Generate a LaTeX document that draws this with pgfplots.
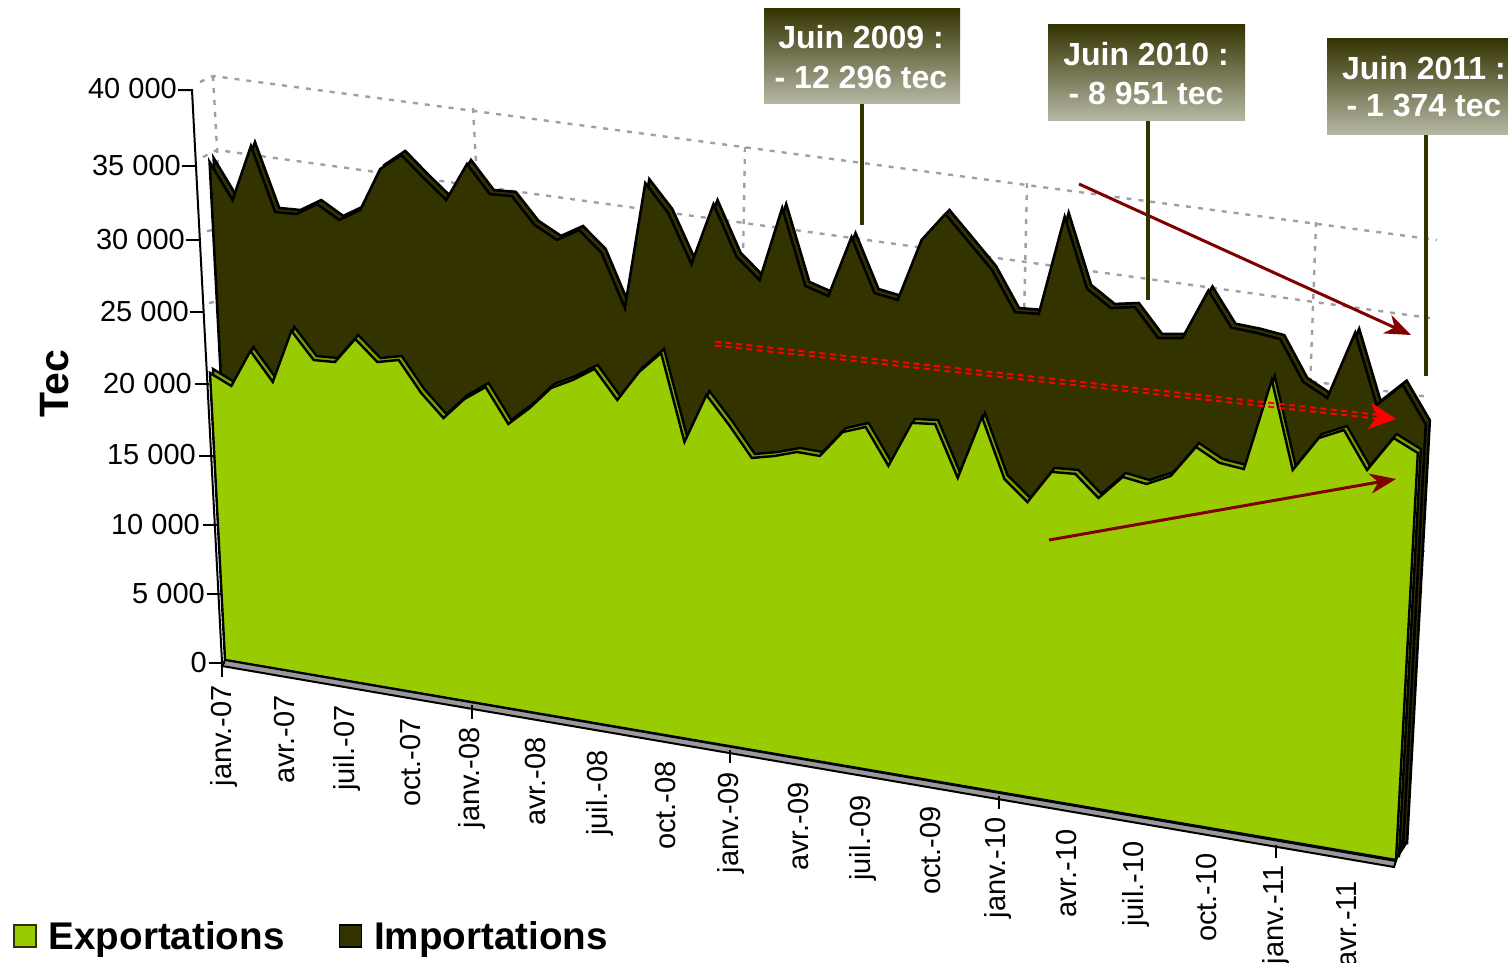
\documentclass[border=0pt]{standalone}
\usepackage{fontspec}
\setmainfont{Liberation Sans}
\usepackage{pgfplots}
\usepackage{pgfplotstable}
\pgfplotsset{compat=1.18}
\usetikzlibrary{arrows.meta}
\definecolor{vert}{HTML}{99CC00}
\definecolor{vertrim}{HTML}{7AA300}
\definecolor{olive}{HTML}{333300}
\definecolor{gridg}{HTML}{A0A0A0}
\definecolor{darkr}{HTML}{800000}
\definecolor{boxlow}{HTML}{B5B7A3}

% month index (0 = janv.-07), tonnes; first and last row close the area on the floor
\pgfplotstableread{
m v
0 0
0 20540
1 19850
2 22500
3 20570
4 24310
5 22520
6 22600
7 24400
8 23030
9 23390
10 21340
11 19840
12 21370
13 22410
14 20100
15 21420
16 23000
17 23770
18 24730
19 22850
20 24960
21 26450
22 20680
23 24070
24 22280
25 20280
26 20640
27 21140
28 21100
29 22930
30 23490
31 21120
32 24210
33 24360
34 21010
35 25270
36 21400
37 20100
38 22330
39 22430
40 21070
41 22690
42 22460
43 23220
44 25340
45 24530
46 24360
47 30330
48 24760
49 27050
50 27790
51 25450
52 27730
53 27000
53 0
}\exportT
\pgfplotstableread{
m v
0 0
0 34110
1 31740
2 35570
3 31330
4 31390
5 32260
6 31390
7 32260
8 35190
9 36320
10 34980
11 33720
12 36300
13 34510
14 34580
15 32860
16 32070
17 32930
18 31610
19 28160
20 36600
21 34850
22 31700
23 35830
24 32580
25 31270
26 36170
27 31300
28 30850
29 34890
30 31460
31 31220
32 35310
33 37180
34 35590
35 33990
36 31490
37 31580
38 38000
39 33610
40 32600
41 32870
42 31100
43 31310
44 34550
45 32400
46 32300
47 32100
48 29590
49 28790
50 33150
51 28780
52 30300
53 28000
53 0
}\importT

% perspective of the 3D chart: (month, tonnes) to picture position
\newcommand\PX[2]{((1060.1*(#1/53)-39.54*(#2/40000)+225)/(1-0.07945*(#1/53)-0.04893*(#2/40000)))}
\newcommand\PY[2]{((131.67*(#1/53)-577.26*(#2/40000)+660)/(1-0.07945*(#1/53)-0.04893*(#2/40000)))}

\begin{document}
\begin{tikzpicture}
\useasboundingbox (0,0) rectangle (1508pt,962pt);
\clip (0,0) rectangle (1508pt,962pt);
\begin{axis}[
  at={(0,0)}, anchor=south west,
  scale only axis, width=1508pt, height=962pt,
  xmin=0, xmax=1508, ymin=0, ymax=962, y dir=reverse,
  hide axis, clip=false,
  legend columns=2,
  legend cell align=left,
  legend style={at={(axis cs:10,955)}, anchor=south west, draw=none, fill=none,
    font=\fontsize{38.6}{40}\selectfont\bfseries,
    /tikz/every odd column/.style={column sep=10pt},
    /tikz/every even column/.style={column sep=52pt}},
  legend image code/.code={\draw[#1,line width=1.5pt] (0pt,-11pt) rectangle (22pt,11pt);},
  gridl/.style={forget plot, gridg, line width=2.4pt, dash pattern=on 5pt off 7pt},
  lead/.style={forget plot, olive, line width=4pt},
]
\addlegendimage{fill=vert,draw=olive}
\addlegendentry{Exportations}
\addlegendimage{fill=olive,draw=black}
\addlegendentry{Importations}

% wall grid
\addplot[gridl] coordinates {(200,82) (213,76) (1437,240)};
\addplot[gridl] coordinates {(203,157) (217,150) (1430,318)};
\addplot[gridl] coordinates {(1300,380) (1430,397)};
\addplot[gridl] coordinates {(213,76) (222,240)};
\addplot[gridl] coordinates {(473,108) (478,200)};
\addplot[gridl] coordinates {(745,147) (743,260)};
\addplot[gridl] coordinates {(1027,183) (1024,320)};
\addplot[gridl] coordinates {(1316,222) (1310,390)};
\addplot[gridl] coordinates {(207,231) (213,230)};
\addplot[gridl] coordinates {(209,303) (214,302)};
\addplot[gridl] coordinates {(1421,472) (1427,472)};
\addplot[gridl] coordinates {(1420,551) (1426,551)};

% importations, set back from the exportations plane
\addplot[forget plot, fill=olive, draw=black, line width=2.6pt, line join=miter]
  table[x expr={\PX{\thisrow{m}}{\thisrow{v}}+14-3*\thisrow{m}/53}, y expr={\PY{\thisrow{m}}{\thisrow{v}}-17}] {\importT} -- cycle;
\addplot[forget plot, fill=olive, draw=black, line width=2.6pt, line join=miter]
  table[x expr={\PX{\thisrow{m}}{\thisrow{v}}+10-3*\thisrow{m}/53}, y expr={\PY{\thisrow{m}}{\thisrow{v}}-13}] {\importT} -- cycle;
\addplot[forget plot, fill=black, draw=black, line width=1pt]
  coordinates {(1395,862) (1407,843) (1400,840)} -- cycle;

% exportations
\addplot[forget plot, fill=vertrim, draw=black, line width=2.4pt, line join=miter]
  table[x expr={\PX{\thisrow{m}}{\thisrow{v}}+3}, y expr={\PY{\thisrow{m}}{\thisrow{v}}-4}] {\exportT} -- cycle;
\addplot[forget plot, fill=vert, draw=black, line width=2.4pt, line join=miter]
  table[x expr={\PX{\thisrow{m}}{\thisrow{v}}}, y expr={\PY{\thisrow{m}}{\thisrow{v}}}] {\exportT} -- cycle;

% floor
\addplot[forget plot, fill=gray!80, draw=black, line width=2pt]
  coordinates {(225,660) (1396,861) (1394,867) (222,666)} -- cycle;

% y axis
\addplot[forget plot, black, line width=2pt] coordinates {(178,90) (192,90) (222,662)};
\addplot[forget plot, black, line width=1.5pt] coordinates {(182,166) (196,166)};
\addplot[forget plot, black, line width=1.5pt] coordinates {(186,240) (200,240)};
\addplot[forget plot, black, line width=1.5pt] coordinates {(190,312) (204,312)};
\addplot[forget plot, black, line width=1.5pt] coordinates {(195,384) (209,384)};
\addplot[forget plot, black, line width=1.5pt] coordinates {(199,456) (213,456)};
\addplot[forget plot, black, line width=1.5pt] coordinates {(203,525) (217,525)};
\addplot[forget plot, black, line width=1.5pt] coordinates {(207,594) (221,594)};
\addplot[forget plot, black, line width=1.5pt] coordinates {(209,663) (225,663)};

% x ticks, every 12 months
\addplot[forget plot, black, line width=1.5pt] coordinates {(222,662) (222,677)};
\addplot[forget plot, black, line width=1.5pt] coordinates {(472,705) (472,719)};
\addplot[forget plot, black, line width=1.5pt] coordinates {(730,750) (730,763)};
\addplot[forget plot, black, line width=1.5pt] coordinates {(999,796) (999,809)};
\addplot[forget plot, black, line width=1.5pt] coordinates {(1276,845) (1276,858)};

% trend arrows
\addplot[forget plot, darkr, line width=3pt, -{Stealth[length=26pt,width=20pt,inset=8pt]}]
  coordinates {(1079,184) (1411,335)};
\addplot[forget plot, darkr, line width=3pt, -{Stealth[length=26pt,width=20pt,inset=8pt]}]
  coordinates {(1049,540) (1396,479)};
\addplot[forget plot, red, line width=2pt, dash pattern=on 6pt off 4.5pt] coordinates {(715,341.5) (1385,415.5)};
\addplot[forget plot, red, line width=2pt, dash pattern=on 6pt off 4.5pt] coordinates {(715,345.5) (1385,419.5)};
\addplot[forget plot, red, line width=1pt, -{Stealth[length=27pt,width=27pt,inset=8pt]}]
  coordinates {(1385,417.7) (1396,419)};

% callouts
\addplot[lead] coordinates {(862,100) (862,225)};
\addplot[lead] coordinates {(1148,117) (1148,300)};
\addplot[lead] coordinates {(1426,130) (1426,376)};
\shade[top color=olive, bottom color=boxlow] (axis cs:764,8) rectangle (axis cs:960,103);
\shade[top color=olive, bottom color=boxlow] (axis cs:1048,24) rectangle (axis cs:1245,120);
\shade[top color=olive, bottom color=boxlow] (axis cs:1327,38) rectangle (axis cs:1540,134);
\begin{scope}[every node/.style={font=\fontsize{32}{32}\selectfont\bfseries, text=white, inner sep=0pt}]
\node at (axis cs:861,37) {Juin 2009 :};
\node at (axis cs:861,77) {- 12 296 tec};
\node at (axis cs:1146,54) {Juin 2010 :};
\node at (axis cs:1146,93) {- 8 951 tec};
\node at (axis cs:1424,68) {Juin 2011 :};
\node at (axis cs:1424,106) {- 1 374 tec};
\end{scope}

% tick labels
\begin{scope}[every node/.style={font=\fontsize{29}{29}\selectfont, anchor=east, inner sep=0pt}]
\node at (axis cs:177,89) {40 000};
\node at (axis cs:181,166) {35 000};
\node at (axis cs:185,240) {30 000};
\node at (axis cs:189,312) {25 000};
\node at (axis cs:192,384) {20 000};
\node at (axis cs:196,455) {15 000};
\node at (axis cs:200,525) {10 000};
\node at (axis cs:205,594) {5 000};
\node at (axis cs:207,663) {0};
\end{scope}
\begin{scope}[every node/.style={font=\fontsize{29}{29}\selectfont, rotate=90, anchor=east, inner sep=0pt}]
\node at (axis cs:224,685) {janv.-07};
\node at (axis cs:285,695) {avr.-07};
\node at (axis cs:347,705) {juil.-07};
\node at (axis cs:411,718) {oct.-07};
\node at (axis cs:472,727) {janv.-08};
\node at (axis cs:536,737) {avr.-08};
\node at (axis cs:600,750) {juil.-08};
\node at (axis cs:666,761) {oct.-08};
\node at (axis cs:731,772) {janv.-09};
\node at (axis cs:799,782) {avr.-09};
\node at (axis cs:863,795) {juil.-09};
\node at (axis cs:931,806) {oct.-09};
\node at (axis cs:998,817) {janv.-10};
\node at (axis cs:1067,829) {avr.-10};
\node at (axis cs:1136,841) {juil.-10};
\node at (axis cs:1207,853) {oct.-10};
\node at (axis cs:1276,865) {janv.-11};
\node at (axis cs:1347,881) {avr.-11};
\end{scope}
\node[rotate=90, font=\fontsize{41}{41}\selectfont\bfseries, inner sep=0pt] at (axis cs:55,384) {Tec};
\end{axis}
\end{tikzpicture}
\end{document}
